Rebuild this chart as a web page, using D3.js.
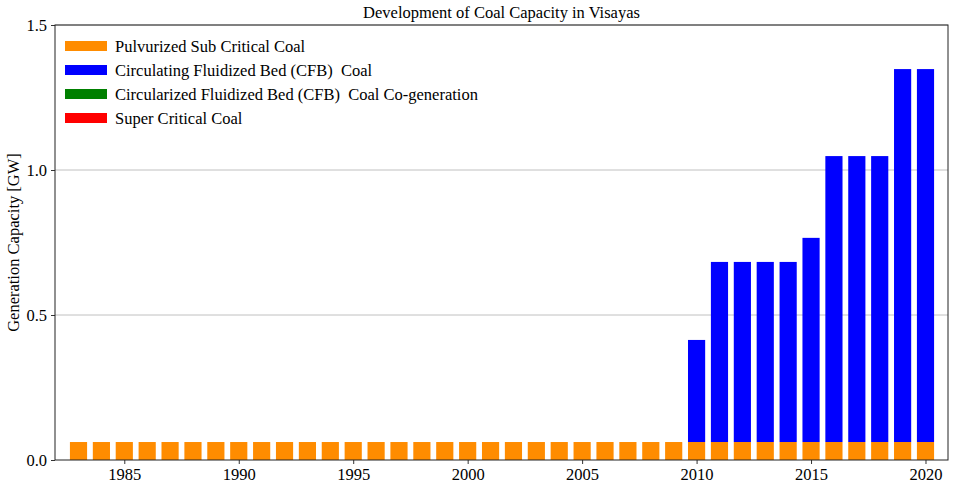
<!DOCTYPE html>
<html><head><meta charset="utf-8">
<script src="https://cdn.jsdelivr.net/npm/d3@7"></script>
<style>body{margin:0;background:#fff}svg{display:block}text{font-family:"Liberation Serif","DejaVu Serif",serif;fill:#000;white-space:pre}</style>
</head><body>
<svg id="c" width="955" height="490"></svg>
<script>
const years = d3.range(1983, 2021);
const pulvurized = years.map(() => 0.062);
const cfb = [0,0,0,0,0,0,0,0,0,0,0,0,0,0,0,0,0,0,0,0,0,0,0,0,0,0,0,
  0.352,0.621,0.621,0.621,0.621,0.704,0.986,0.986,0.986,1.286,1.286];
const cfbCogen = years.map(() => 0);
const superCritical = years.map(() => 0);
const seriesNames = ["Pulvurized Sub Critical Coal","Circulating Fluidized Bed (CFB)  Coal","Circularized Fluidized Bed (CFB)  Coal Co-generation","Super Critical Coal"];
const seriesColors = ["#ff8c00","#0000ff","#008000","#ff0000"];
const yTicks = [0, 0.5, 1.0, 1.5];
const xTicks = [1985,1990,1995,2000,2005,2010,2015,2020];
const title = "Development of Coal Capacity in Visayas";
const yLabel = "Generation Capacity [GW]";

const svg = d3.select("#c");
const L = 55, R = 948, T = 25, B = 460;
const x = d3.scaleLinear().domain([1981.973, 2020.983]).range([L, R]);
const y = d3.scaleLinear().domain([0, 1.5]).range([B, T]);
const bw = (x(1) - x(0)) * 0.75;

// grid
svg.append("g").selectAll("line").data(yTicks.filter(d => d > 0)).join("line")
  .attr("x1", L).attr("x2", R).attr("y1", d => y(d)).attr("y2", d => y(d))
  .attr("stroke", "#b0b0b0").attr("stroke-width", 0.8);

const data = [pulvurized, cfb, cfbCogen, superCritical];
const stack = years.map((yr, i) => {
  let base = 0;
  return data.map((s, k) => { const o = {yr, k, y0: base, y1: base + s[i]}; base += s[i]; return o; });
}).flat().filter(d => d.y1 > d.y0);

svg.append("g").selectAll("rect").data(stack).join("rect")
  .attr("x", d => x(d.yr) - bw / 2).attr("width", bw)
  .attr("y", d => y(d.y1)).attr("height", d => y(d.y0) - y(d.y1))
  .attr("fill", d => seriesColors[d.k]);

// axes
const ax = svg.append("g").attr("transform", `translate(0,${B})`)
  .call(d3.axisBottom(x).tickValues(xTicks).tickFormat(d3.format("d")).tickSize(4).tickPadding(4));
const ay = svg.append("g").attr("transform", `translate(${L},0)`)
  .call(d3.axisLeft(y).tickValues(yTicks).tickFormat(d3.format(".1f")).tickSize(4).tickPadding(4));
[ax, ay].forEach(g => {
  g.select(".domain").remove();
  g.selectAll("text").style("font-size", "16.5px").attr("font-family", "Liberation Serif");
  g.selectAll("line").attr("stroke", "#333");
});
ay.selectAll("text").attr("dy", "0.35em");

svg.append("rect").attr("x", L).attr("y", T).attr("width", R - L).attr("height", B - T)
  .attr("fill", "none").attr("stroke", "#222").attr("stroke-width", 1);

svg.append("text").attr("x", (L + R) / 2).attr("y", 18).attr("text-anchor", "middle")
  .style("font-size", "16.5px").text(title);
svg.append("text").attr("transform", `translate(19,${(T + B) / 2}) rotate(-90)`)
  .attr("text-anchor", "middle").style("font-size", "16.5px").text(yLabel);

// legend
const lg = svg.append("g").selectAll("g").data(seriesNames).join("g")
  .attr("transform", (d, i) => `translate(65,${46 + i * 24})`);
lg.append("rect").attr("x", 0).attr("y", -5).attr("width", 42).attr("height", 10)
  .attr("fill", (d, i) => seriesColors[i]);
lg.append("text").attr("x", 50).attr("y", 0).attr("dy", "0.35em").style("font-size", "16.5px").text(d => d);
</script>
</body></html>
